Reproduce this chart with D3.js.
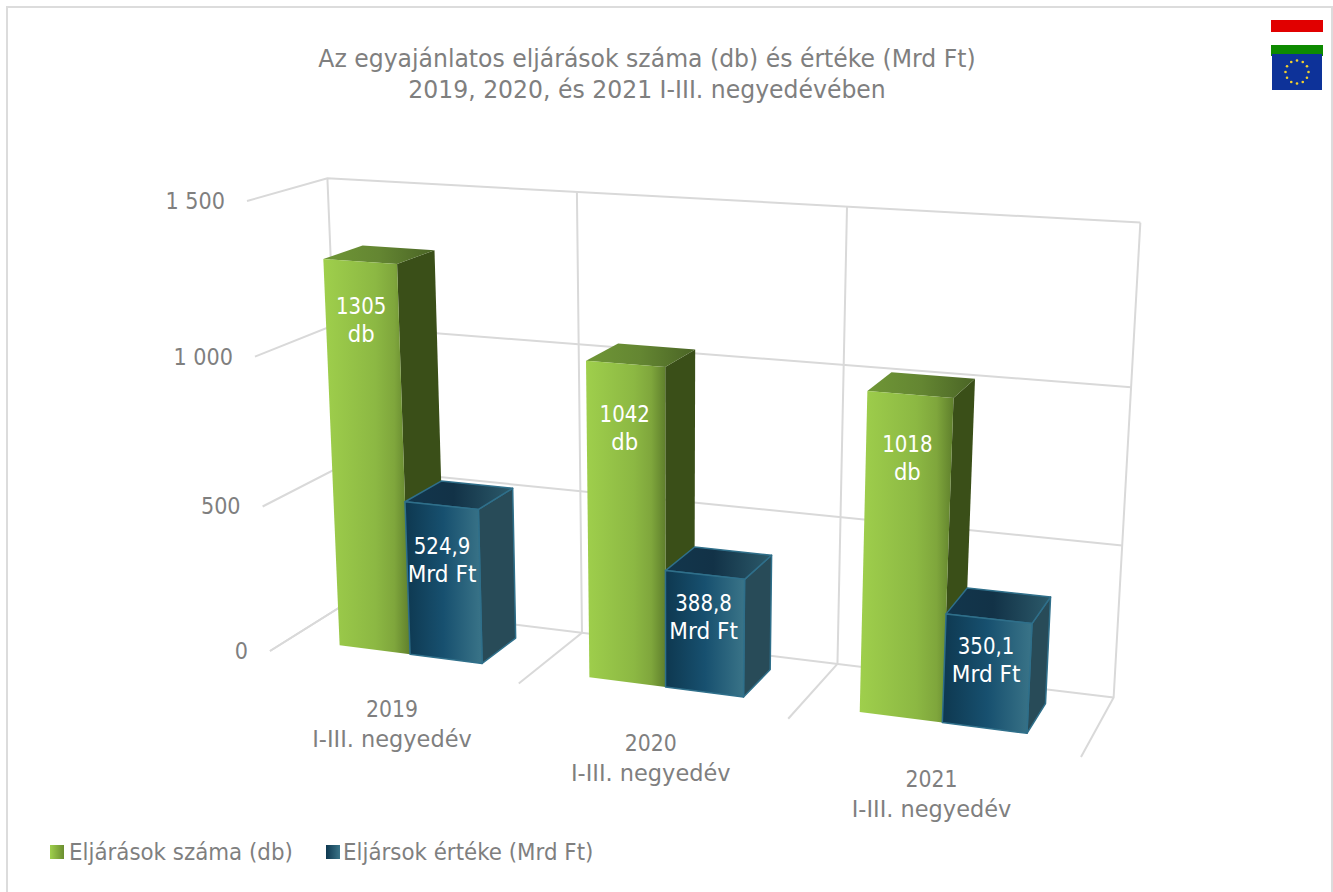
<!DOCTYPE html>
<html><head><meta charset="utf-8">
<script src="https://cdn.jsdelivr.net/npm/d3@7/dist/d3.min.js"></script>
<style>html,body{margin:0;padding:0;background:#fff}svg{display:block}text{font-family:"DejaVu Sans",sans-serif}</style>
</head><body><div id="c"></div>
<script>
const titleLines = ["Az egyajánlatos eljárások száma (db) és értéke (Mrd Ft)", "2019, 2020, és 2021 I-III. negyedévében"];
const categories = ["2019", "2020", "2021"];
const categorySub = "I-III. negyedév";
const seriesNames = ["Eljárások száma (db)", "Eljársok értéke (Mrd Ft)"];
const countValues = [1305, 1042, 1018];
const amountValues = [524.9, 388.8, 350.1];
const countLabels = ["1305", "1042", "1018"];
const amountLabels = ["524,9", "388,8", "350,1"];
const countLabelHeight = [.855, .805, .81];
const amountLabelHeight = [.65, .64, .625];
const seriesUnits = ["db", "Mrd Ft"];
const tickValues = [0, 500, 1000, 1500];
const tickLabels = ["0", "500", "1 000", "1 500"];

const W = 1333, H = 892;
// Perspective camera: frame corners on screen and projective weights
const cam = {O:[270,651], X:[1081,757], Y:[247,201], Z:[345,604], a:.885, b:.946, g:1.06};
function project(xn, yn, zn){
  const {O,X,Y,Z,a,b,g} = cam;
  const d = 1 + xn*(a-1) + yn*(b-1) + zn*(g-1);
  const f = i => (O[i] + xn*(a*X[i]-O[i]) + yn*(b*Y[i]-O[i]) + zn*(g*Z[i]-O[i]))/d;
  return [f(0), f(1)];
}
const x0 = d3.scaleBand().domain(categories).range([0,1]).paddingInner(.42).paddingOuter(.21);
const x1 = d3.scaleBand().domain([0,1]).range([0,x0.bandwidth()]);
const y = d3.scaleLinear().domain([0,1500]).range([0,1]);
const zRange = [.25,.76];

const svg = d3.select("#c").append("svg").attr("width",W).attr("height",H);
const defs = svg.append("defs");
function grad(id, stops){
  const g = defs.append("linearGradient").attr("id",id)
    .attr("x1",0).attr("y1",0).attr("x2",1).attr("y2",0);
  stops.forEach(s=>g.append("stop").attr("offset",s[0]).attr("stop-color",s[1]));
}
grad("gFront",[[0,"#9fcf4c"],[.6,"#8cb843"],[.82,"#7fa63c"],[1,"#5f7f2c"]]);
grad("gTop",[[0,"#6f9636"],[.5,"#648632"],[1,"#4a6425"]]);
grad("bFront",[[0,"#0e3850"],[.5,"#17506f"],[1,"#3a7488"]]);
grad("bTop",[[0,"#12364c"],[.45,"#123247"],[1,"#2c5a6a"]]);
grad("gKey",[[0,"#9fcf4c"],[1,"#6b8e30"]]);
grad("bKey",[[0,"#0e3850"],[1,"#3a7488"]]);
defs.append("filter").attr("id","soft").append("feGaussianBlur").attr("stdDeviation",.6);

function label(parent, x, yy, s, size, fill, anchor, factor){
  const t = parent.append("text").attr("x",x).attr("y",yy).attr("font-size",size)
    .attr("fill",fill).attr("text-anchor",anchor).text(s);
  t.attr("textLength", t.node().getComputedTextLength()*factor).attr("lengthAdjust","spacingAndGlyphs");
  return t;
}

// chart frame: top, left and right edges only
svg.append("path").attr("d",d3.line()([[7,H],[7,7],[1332,7],[1332,H]]))
  .attr("fill","none").attr("stroke","#dcdcdc").attr("stroke-width",2);

// grid
const gridG = svg.append("g").attr("fill","none").attr("stroke","#d9d9d9").attr("stroke-width",2);
const line = d3.line();
tickValues.forEach(v=>{
  const yn = y(v);
  gridG.append("path").attr("d",line([project(0,yn,0),project(0,yn,1),project(1,yn,1)]));
});
[0,1,2,3].forEach(i=>{
  const xn = i/3;
  gridG.append("path").attr("d",line([project(xn,0,0),project(xn,0,1),project(xn,1,1)]));
});

// axis labels
const txt = "#7f7f7f";
const tickG = svg.append("g");
tickValues.forEach((v,i)=>{
  const p = project(0,y(v),0);
  label(tickG,p[0]-22,p[1]+8,tickLabels[i],23.5,txt,"end",.885);
});

// bars
const series = [
  {values:countValues, labels:countLabels, unit:seriesUnits[0], unitF:.92, front:"url(#gFront)", side:"#3a4f18", top:"url(#gTop)", stroke:"none", frac:countLabelHeight},
  {values:amountValues, labels:amountLabels, unit:seriesUnits[1], unitF:.94, front:"url(#bFront)", side:"#284b58", top:"url(#bTop)", stroke:"#2f6f8a", frac:amountLabelHeight}
];
const poly = pts => "M"+pts.map(p=>p.join(",")).join("L")+"Z";
const barsG = svg.append("g"), labelG = svg.append("g");
categories.forEach((c,ci)=>{
  series.forEach((s,si)=>{
    const xa = x0(c)+x1(si), xb = xa+x1.bandwidth(), v = y(s.values[ci]);
    const [za,zb] = zRange;
    const g = barsG.append("g").attr("stroke",s.stroke).attr("stroke-width",s.stroke==="none"?0:1.5).attr("stroke-linejoin","round");
    g.append("path").attr("d",poly([project(xb,0,za),project(xb,0,zb),project(xb,v,zb),project(xb,v,za)])).attr("fill",s.side);
    g.append("path").attr("d",poly([project(xa,v,za),project(xb,v,za),project(xb,v,zb),project(xa,v,zb)])).attr("fill",s.top);
    g.append("path").attr("d",poly([project(xa,0,za),project(xb,0,za),project(xb,v,za),project(xa,v,za)])).attr("fill",s.front);
    const p = project((xa+xb)/2, v*s.frac[ci], za);
    label(labelG,p[0]-1,p[1]-6,s.labels[ci],23,"#fff","middle",.86);
    label(labelG,p[0]-1,p[1]+22,s.unit,23,"#fff","middle",s.unitF);
  });
  const p = project(x0(c)+x0.bandwidth()/2,0,0);
  label(labelG,p[0],p[1]+50,c,23.5,txt,"middle",.87);
  label(labelG,p[0],p[1]+80,categorySub,23.5,txt,"middle",.955);
});

// title
titleLines.forEach((d,i)=>label(svg,647,67+i*31,d,25.5,txt,"middle",.923));

// legend
const legendKeys = [{x:50,tx:69,f:"url(#gKey)"},{x:326,tx:343,f:"url(#bKey)"}];
legendKeys.forEach((k,i)=>{
  svg.append("rect").attr("x",k.x).attr("y",845).attr("width",14).attr("height",14).attr("fill",k.f);
  label(svg,k.tx,860,seriesNames[i],23.5,txt,"start",.91);
});

// flags
const flag = svg.append("g").attr("filter","url(#soft)");
const fx = 1271, fw = 52;
[["#e10000",20,12],["#ffffff",32,13],["#0a8a00",45,11]].forEach(b=>flag.append("rect").attr("x",fx).attr("y",b[1]).attr("width",fw).attr("height",b[2]).attr("fill",b[0]));
flag.append("rect").attr("x",1272).attr("y",54).attr("width",50).attr("height",36).attr("fill","#0b3399");
d3.range(12).forEach(i=>{
  const a = i*Math.PI/6;
  flag.append("circle").attr("cx",1297+11.5*Math.sin(a)).attr("cy",72-11.5*Math.cos(a)).attr("r",1.3).attr("fill","#f2cf2e");
});
</script></body></html>
